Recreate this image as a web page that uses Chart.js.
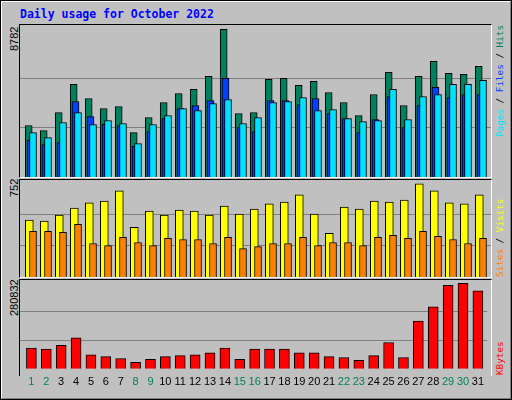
<!DOCTYPE html>
<html><head><meta charset="utf-8">
<script src="https://cdn.jsdelivr.net/npm/chart.js@4/dist/chart.umd.min.js"></script>
<style>
body{margin:0;background:#c0c0c0;}
#frame{position:absolute;left:0;top:0;width:512px;height:400px;box-sizing:border-box;background:#c0c0c0;
 border-top:2px solid #fff;border-left:2px solid #fff;border-right:2px solid #808080;border-bottom:2px solid #808080;outline:1px solid #000;outline-offset:-1px}
.panel{position:absolute;left:19px;width:471px;border-top:1px solid #000;border-left:1px solid #000;border-right:1px solid #fff;border-bottom:1px solid #fff}
canvas{position:absolute;left:0;top:0}
.rot{position:absolute;transform:rotate(-90deg);transform-origin:top left;white-space:nowrap;line-height:10px}
.lab{font-family:"Liberation Sans",sans-serif;font-size:11px;color:#000}
.rl{font-family:"DejaVu Sans Mono",monospace;font-size:9.3px}
#title{position:absolute;left:20px;top:7px;font-family:"DejaVu Sans Mono",monospace;font-weight:bold;font-size:11.5px;color:#0000ff}
</style></head><body>
<div id="frame"></div>
<div id="title">Daily usage for October 2022</div>
<div class="panel" style="top:24px;height:152px"><canvas id="c1" width="471" height="152"></canvas></div>
<div class="panel" style="top:179px;height:97px"><canvas id="c2" width="471" height="97"></canvas></div>
<div class="panel" style="top:279px;height:96px;border-bottom:none"><canvas id="c3" width="471" height="116"></canvas></div>
<div class="rot lab" style="left:9px;top:51px">8782</div>
<div class="rot lab" style="left:9px;top:197px">752</div>
<div class="rot lab" style="left:9px;top:316px">280832</div>
<div class="rot rl" style="left:495px;top:137px"><span style="color:#00e0ff">Pages</span> / <span style="color:#0040ff">Files</span> / <span style="color:#00805c">Hits</span></div>
<div class="rot rl" style="left:495px;top:277px"><span style="color:#ff8000">Sites</span> / <span style="color:#ffff00">Visits</span></div>
<div class="rot rl" style="left:495px;top:375px"><span style="color:#ff0000">KBytes</span></div>
<script>
const days=[1,2,3,4,5,6,7,8,9,10,11,12,13,14,15,16,17,18,19,20,21,22,23,24,25,26,27,28,29,30,31];
const weekend=[1,2,8,9,15,16,22,23,29,30];
const hits=[3060,2762,3835,5504,4669,4073,4192,2643,3537,4431,4967,5206,5981,8782,3775,3835,5802,5861,5444,5683,5027,4431,3656,4908,6219,4252,5981,6875,6159,6100,6577];
const files=[2186,1927,2047,4490,3596,3139,3060,1828,2702,3477,4073,4252,4550,5861,2941,2702,4550,4550,4312,4669,3775,3477,2643,3418,4789,2941,4252,5325,4729,4908,4908];
const pages=[2643,2345,3239,3835,3120,3358,3179,1987,3120,3656,4073,3954,4371,4610,3179,3537,4431,4490,4729,3954,4014,3477,3298,3358,5206,3418,4789,4908,5504,5504,5742];
const visits=[458,450,499,556,597,613,695,401,531,499,540,531,499,572,507,548,589,605,662,507,352,564,548,613,605,621,752,695,597,589,662];
const sites=[368,368,360,425,270,253,319,278,253,311,302,302,270,319,229,245,270,270,319,253,278,278,253,319,335,311,368,327,302,270,311];
const kbytes=[67894,64808,77152,101841,46291,40119,33947,21603,30861,40119,43205,46291,52463,67894,30861,64808,64808,64808,52463,52463,40119,37033,27775,43205,86410,37033,157391,203683,274663,280832,256146];
const maxHits=8782, maxVisits=752, maxKB=280832;

function pts(arr){return days.map((d,i)=>({x:d,y:arr[i]}));}
function xAxis(min){return {type:'linear',display:false,offset:false,min:min,max:min+31.4};}
function yAxis(maxVal,top){return {display:true,min:0,max:top,
  afterBuildTicks:a=>{a.ticks=[{value:maxVal/3},{value:2*maxVal/3}];},
  ticks:{display:false},border:{display:false},grid:{color:'#808080',drawTicks:false,lineWidth:1}};}
function ds(arr,color,axis,w,order){return {data:pts(arr),backgroundColor:color,borderColor:'#000',borderWidth:1,
  xAxisID:axis,barThickness:w,order:order,grouped:false};}
const base={responsive:false,animation:false,devicePixelRatio:1,layout:{padding:0},
  plugins:{legend:{display:false},tooltip:{enabled:false}}};

new Chart(document.getElementById('c1'),{type:'bar',
 data:{datasets:[ds(hits,'#00805c','xh',7,3),ds(files,'#0040ff','xf',7,2),ds(pages,'#00e0ff','xp',7,1)]},
 options:{...base,scales:{xh:xAxis(0.42),xf:xAxis(0.30),xp:xAxis(0.133),y:yAxis(maxHits,9038)}}});
new Chart(document.getElementById('c2'),{type:'bar',
 data:{datasets:[ds(visits,'#ffff00','xv',8,2),ds(sites,'#ff8000','xs',7,1)]},
 options:{...base,scales:{xv:xAxis(0.38),xs:xAxis(0.133),y:yAxis(maxVisits,782)}}});
new Chart(document.getElementById('c3'),{type:'bar',
 data:{datasets:[ds(kbytes,'#ff0000','x',10,1)]},
 options:{...base,scales:{
  x:{type:'linear',offset:false,min:0.233,max:31.633,border:{display:false},grid:{display:false,drawTicks:false},
     afterBuildTicks:a=>{a.ticks=days.map(d=>({value:d}));},
     ticks:{padding:7,autoSkip:false,maxRotation:0,font:{family:'Liberation Sans',size:11},
       callback:v=>String(v),color:c=>weekend.includes(c.tick.value)?'#00805c':'#000'}},
  y:yAxis(maxKB,292148)}}});
</script>
</body></html>
